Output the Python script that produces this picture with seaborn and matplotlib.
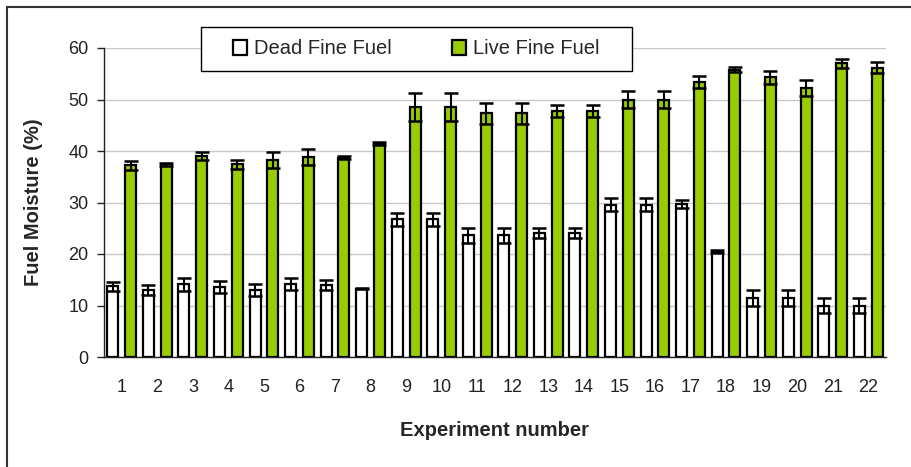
import numpy as np
import pandas as pd
import matplotlib
matplotlib.use("Agg")
import matplotlib.pyplot as plt
import seaborn as sns
from matplotlib.patches import Rectangle

experiments = [str(i) for i in range(1, 23)]
dead_mean = [13.7, 13.0, 14.1, 13.6, 13.0, 14.2, 14.0, 13.3, 26.7, 26.7, 23.6, 23.6,
             24.1, 24.1, 29.6, 29.6, 29.7, 20.4, 11.5, 11.5, 10.0, 10.0]
dead_err = [0.9, 0.9, 1.3, 1.1, 1.2, 1.2, 0.9, 0.1, 1.2, 1.2, 1.4, 1.4,
            0.9, 0.9, 1.3, 1.3, 0.7, 0.3, 1.5, 1.5, 1.5, 1.5]
live_mean = [37.2, 37.4, 39.0, 37.4, 38.3, 38.8, 38.7, 41.4, 48.6, 48.6, 47.3, 47.3,
             47.8, 47.8, 50.0, 50.0, 53.4, 55.8, 54.3, 52.2, 57.0, 56.2]
live_err = [0.8, 0.3, 0.8, 0.8, 1.6, 1.6, 0.3, 0.3, 2.7, 2.7, 2.1, 2.1,
            1.2, 1.2, 1.6, 1.6, 1.1, 0.5, 1.3, 1.5, 0.8, 1.0]
series = ["Dead Fine Fuel", "Live Fine Fuel"]
colors = {"Dead Fine Fuel": "#FFFFFF", "Live Fine Fuel": "#99CC00"}
yticks = [0, 10, 20, 30, 40, 50, 60]

df = pd.DataFrame({
    "Experiment": experiments * 2,
    "Fuel": [series[0]] * 22 + [series[1]] * 22,
    "Moisture": dead_mean + live_mean,
})

sns.set_theme(style="white")
plt.rcParams["font.family"] = ["Liberation Sans", "DejaVu Sans"]

fig = plt.figure(figsize=(9.12, 4.67), dpi=100)
ax = fig.add_axes([104 / 912, 1 - 357 / 467, (886 - 104) / 912, (357 - 48) / 467])

sns.barplot(data=df, x="Experiment", y="Moisture", hue="Fuel", hue_order=series,
            order=experiments, palette=colors, errorbar=None, width=1.0, gap=0.38,
            edgecolor="black", linewidth=1.6, ax=ax, zorder=3, saturation=1)

for cont, means, errs in zip(ax.containers, [dead_mean, live_mean], [dead_err, live_err]):
    xs = [b.get_x() + b.get_width() / 2 for b in cont]
    ax.errorbar(xs, means, yerr=errs, fmt="none", ecolor="black", elinewidth=1.5,
                capsize=4.8, capthick=1.8, zorder=4)

ax.set_ylim(0, 60)
ax.set_xlim(-0.5, 21.5)
ax.set_yticks(yticks)
ax.set_yticklabels([str(v) for v in yticks])
ax.yaxis.grid(True, color="#c8c8c8", linewidth=1.0, zorder=0)
ax.xaxis.grid(False)
ax.set_axisbelow(True)

for s in ["top", "right"]:
    ax.spines[s].set_visible(False)
for s in ["left", "bottom"]:
    ax.spines[s].set_color("#222222")
    ax.spines[s].set_linewidth(1.0)

ax.set_xticks(np.arange(-0.5, 22, 1.0), minor=True)
ax.tick_params(axis="x", which="major", length=0, pad=16, labelsize=13, labelcolor="#222222")
ax.tick_params(axis="x", which="minor", length=5, width=1.0, color="#222222", direction="out")
ax.tick_params(axis="y", which="major", length=5, width=1.0, color="#222222", direction="out",
               left=True, pad=6, labelsize=13, labelcolor="#222222")

ax.set_xlabel("Experiment number", fontsize=14.5, fontweight="bold", labelpad=18)
ax.set_ylabel("Fuel Moisture (%)", fontsize=14.5, fontweight="bold", labelpad=18)

# legend box (white, black border) and legend entries
box = Rectangle((201 / 912, 1 - 71 / 467), (632 - 201) / 912, 44 / 467,
                transform=fig.transFigure, facecolor="white", edgecolor="black",
                linewidth=1.0, zorder=4.9, clip_on=False)
ax.add_artist(box)
leg = ax.legend(loc="center", bbox_to_anchor=(416.5 / 912, 1 - 49 / 467),
                bbox_transform=fig.transFigure, ncol=2, frameon=False,
                fontsize=14.5, handlelength=0.7, handleheight=0.7, handletextpad=0.35,
                columnspacing=3.0, borderpad=0.3, title=None)
leg.set_zorder(5)
for h in leg.legend_handles:
    h.set_edgecolor("black")
    h.set_linewidth(1.6)

fig.patches.append(Rectangle((7 / 912, -0.05), 1.1, 1 - 7 / 467 + 0.05,
                             transform=fig.transFigure, fill=False,
                             edgecolor="#333333", linewidth=1.5))

fig.savefig("out.png", dpi=100)
